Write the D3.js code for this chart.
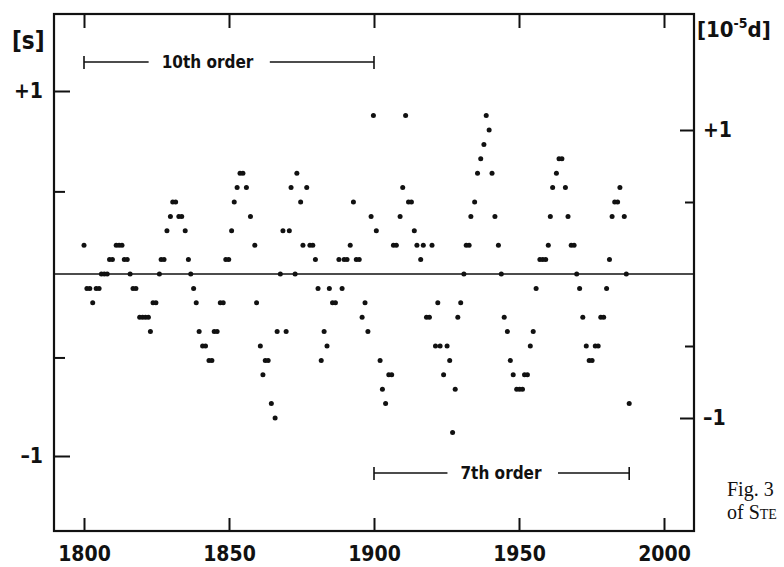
<!DOCTYPE html>
<html>
<head>
<meta charset="utf-8">
<script src="https://cdnjs.cloudflare.com/ajax/libs/d3/7.8.5/d3.min.js"></script>
<style>
  body { margin: 0; background: #fff; }
  svg { display: block; }
  .din { font-family: "DejaVu Sans", sans-serif; font-stretch: condensed; font-weight: bold; }
</style>
</head>
<body>
<script>
// epoch of each plotted residual (years)
const years = [
  1800.0, 1801.0, 1802.0, 1803.0, 1804.2, 1805.2, 1806.0, 1807.0, 1808.0, 1808.8,
  1809.8, 1811.1, 1812.1, 1813.1, 1813.9, 1814.9, 1815.9, 1816.9, 1817.9, 1819.2,
  1820.2, 1821.2, 1822.2, 1822.9, 1823.8, 1824.8, 1826.0, 1826.6, 1827.6, 1828.6,
  1829.8, 1830.6, 1831.6, 1832.7, 1833.7, 1834.9, 1836.0, 1836.8, 1837.8, 1838.7,
  1839.7, 1840.9, 1841.9, 1843.1, 1844.1, 1844.9, 1845.9, 1847.0, 1848.0, 1848.9,
  1849.9, 1850.9, 1851.8, 1852.8, 1853.8, 1854.8, 1856.0, 1857.4, 1858.9, 1859.5,
  1860.8, 1861.7, 1862.5, 1863.5, 1864.6, 1865.9, 1866.6, 1867.7, 1868.6, 1869.7,
  1870.8, 1871.4, 1872.8, 1873.4, 1874.7, 1875.5, 1876.8, 1877.9, 1878.9, 1879.8,
  1880.7, 1881.8, 1882.8, 1883.8, 1884.6, 1885.7, 1886.7, 1887.9, 1889.0, 1889.7,
  1890.7, 1891.8, 1892.9, 1893.9, 1894.9, 1895.9, 1896.9, 1897.9, 1899.0, 1899.8,
  1900.8, 1902.1, 1902.9, 1904.0, 1905.1, 1906.1, 1906.7, 1907.7, 1909.0, 1909.9,
  1910.9, 1911.9, 1912.9, 1913.9, 1914.8, 1916.1, 1917.0, 1918.1, 1919.1, 1920.0,
  1921.2, 1922.0, 1922.8, 1924.0, 1925.2, 1926.1, 1927.1, 1928.0, 1928.9, 1929.9,
  1931.0, 1931.8, 1932.8, 1933.4, 1934.7, 1935.7, 1936.8, 1937.9, 1938.7, 1939.7,
  1940.7, 1941.7, 1942.9, 1943.9, 1944.9, 1946.0, 1947.0, 1948.0, 1949.2, 1950.2,
  1951.2, 1951.9, 1952.9, 1953.9, 1954.9, 1955.9, 1957.2, 1958.2, 1959.2, 1960.1,
  1960.8, 1961.6, 1962.9, 1963.8, 1964.8, 1966.0, 1966.9, 1968.0, 1969.0, 1969.9,
  1970.9, 1972.0, 1973.2, 1974.2, 1975.2, 1976.3, 1977.3, 1978.2, 1979.2, 1980.2,
  1981.2, 1982.1, 1983.0, 1984.0, 1984.8, 1986.3, 1987.0, 1988.0
];

// residuals in units of 10^-5 d (right-hand scale)
const values = [
   0.2, -0.1, -0.1, -0.2, -0.1, -0.1,  0.0,  0.0,  0.0,  0.1,
   0.1,  0.2,  0.2,  0.2,  0.1,  0.1,  0.0, -0.1, -0.1, -0.3,
  -0.3, -0.3, -0.3, -0.4, -0.2, -0.2,  0.0,  0.1,  0.1,  0.3,
   0.4,  0.5,  0.5,  0.4,  0.4,  0.3,  0.1,  0.0, -0.1, -0.2,
  -0.4, -0.5, -0.5, -0.6, -0.6, -0.4, -0.4, -0.2, -0.2,  0.1,
   0.1,  0.3,  0.5,  0.6,  0.7,  0.7,  0.6,  0.4,  0.2, -0.2,
  -0.5, -0.7, -0.6, -0.6, -0.9, -1.0, -0.4,  0.0,  0.3, -0.4,
   0.3,  0.6,  0.0,  0.7,  0.5,  0.2,  0.6,  0.2,  0.2,  0.1,
  -0.1, -0.6, -0.4, -0.5, -0.1, -0.2, -0.2,  0.1, -0.1,  0.1,
   0.1,  0.2,  0.5,  0.1,  0.1, -0.3, -0.2, -0.4,  0.4,  1.1,
   0.3, -0.6, -0.8, -0.9, -0.7, -0.7,  0.2,  0.2,  0.4,  0.6,
   1.1,  0.5,  0.5,  0.3,  0.2,  0.1,  0.2, -0.3, -0.3,  0.2,
  -0.5, -0.2, -0.5, -0.7, -0.5, -0.6, -1.1, -0.8, -0.3, -0.2,
   0.0,  0.2,  0.2,  0.4,  0.5,  0.7,  0.8,  0.9,  1.1,  1.0,
   0.7,  0.4,  0.2,  0.0, -0.3, -0.4, -0.6, -0.7, -0.8, -0.8,
  -0.8, -0.7, -0.7, -0.5, -0.4, -0.1,  0.1,  0.1,  0.1,  0.2,
   0.4,  0.6,  0.7,  0.8,  0.8,  0.6,  0.4,  0.2,  0.2,  0.0,
  -0.1, -0.3, -0.5, -0.6, -0.6, -0.5, -0.5, -0.3, -0.3, -0.1,
   0.1,  0.4,  0.5,  0.5,  0.6,  0.4,  0.0, -0.9
];

const xTicks = [1800, 1850, 1900, 1950, 2000];
const leftMajor = [1, -1];        // seconds
const leftMinor = [0.45, -0.46];
const rightMajor = [1, -1];       // 10^-5 d
const rightMinor = [0.5, -0.5];

const orderLabels = ["10th order", "7th order"];
const orderFrom = [1800, 1900];
const orderTo = [1900, 1988];

const width = 784;
const height = 567;
const frame = { left: 54, right: 694, top: 14, bottom: 531 };
const ink = "#111";

const svg = d3.select("body")
  .append("svg")
  .attr("width", width)
  .attr("height", height);

const x = d3.scaleLinear().domain([1800, 2000]).range([84, 664]);
const yL = d3.scaleLinear().domain([-1, 1]).range([456, 91]);
const yR = d3.scaleLinear().domain([-1, 1]).range([418, 130]);

const signed = d => (d > 0 ? "+" : "\u2013") + Math.abs(d);

function styleAxis(g, size) {
  g.select(".domain").remove();
  g.attr("font-family", null).attr("font-size", null);
  g.selectAll(".tick line").attr("stroke", ink).attr("stroke-width", 2);
  g.selectAll(".tick text")
    .attr("class", "din")
    .attr("fill", ink)
    .style("font-size", size + "px");
}

// bottom axis, ticks pointing into the plot
svg.append("g")
  .attr("transform", `translate(0,${frame.bottom})`)
  .call(d3.axisBottom(x).tickValues(xTicks).tickFormat(d3.format("d"))
    .tickSizeInner(-13).tickSizeOuter(0).tickPadding(15))
  .call(g => styleAxis(g, 21));

// top axis, ticks only
svg.append("g")
  .attr("transform", `translate(0,${frame.top})`)
  .call(d3.axisTop(x).tickValues(xTicks).tickFormat("")
    .tickSizeInner(-14).tickSizeOuter(0))
  .call(g => styleAxis(g, 21));

// left axis [s]
svg.append("g")
  .attr("transform", `translate(${frame.left},0)`)
  .call(d3.axisLeft(yL).tickValues(leftMajor).tickFormat(signed)
    .tickSizeInner(-16).tickSizeOuter(0).tickPadding(11))
  .call(g => styleAxis(g, 21));

svg.append("g")
  .attr("transform", `translate(${frame.left},0)`)
  .call(d3.axisLeft(yL).tickValues(leftMinor).tickFormat("")
    .tickSizeInner(-11).tickSizeOuter(0))
  .call(g => styleAxis(g, 21));

// right axis [10^-5 d]
svg.append("g")
  .attr("transform", `translate(${frame.right},0)`)
  .call(d3.axisRight(yR).tickValues(rightMajor).tickFormat(signed)
    .tickSizeInner(-14).tickSizeOuter(0).tickPadding(9))
  .call(g => styleAxis(g, 21));

svg.append("g")
  .attr("transform", `translate(${frame.right},0)`)
  .call(d3.axisRight(yR).tickValues(rightMinor).tickFormat("")
    .tickSizeInner(-9).tickSizeOuter(0))
  .call(g => styleAxis(g, 21));

// frame
svg.append("rect")
  .attr("x", frame.left)
  .attr("y", frame.top)
  .attr("width", frame.right - frame.left)
  .attr("height", frame.bottom - frame.top)
  .attr("fill", "none")
  .attr("stroke", ink)
  .attr("stroke-width", 2.2);

// zero line
svg.append("line")
  .attr("x1", frame.left).attr("x2", frame.right)
  .attr("y1", yR(0)).attr("y2", yR(0))
  .attr("stroke", ink)
  .attr("stroke-width", 1.4);

// residual dots
svg.append("g")
  .selectAll("circle")
  .data(years)
  .enter()
  .append("circle")
  .attr("cx", d => x(d))
  .attr("cy", (d, i) => yR(values[i]))
  .attr("r", 2.5)
  .attr("fill", ink);

// fit-order brackets
const orderY = [62, 473];
const orderTextX = [207.5, 501];
orderLabels.forEach((label, i) => {
  const g = svg.append("g").attr("stroke", ink).attr("stroke-width", 1.6);
  const t = svg.append("text")
    .attr("class", "din")
    .attr("x", orderTextX[i])
    .attr("y", orderY[i] + 6)
    .attr("text-anchor", "middle")
    .attr("fill", ink)
    .style("font-size", "17px")
    .text(label);
  const box = t.node().getBBox();
  const x0 = x(orderFrom[i]);
  const x1 = x(orderTo[i]);
  g.append("line").attr("x1", x0).attr("x2", box.x - 13)
    .attr("y1", orderY[i]).attr("y2", orderY[i]);
  g.append("line").attr("x1", box.x + box.width + 16).attr("x2", x1)
    .attr("y1", orderY[i]).attr("y2", orderY[i]);
  [x0, x1].forEach(xx => {
    g.append("line").attr("x1", xx).attr("x2", xx)
      .attr("y1", orderY[i] - 6).attr("y2", orderY[i] + 7);
  });
});

// unit labels
svg.append("text")
  .attr("class", "din")
  .attr("x", 12)
  .attr("y", 49)
  .attr("fill", ink)
  .style("font-size", "24px")
  .text("[s]");

const unitR = svg.append("text")
  .attr("class", "din")
  .attr("x", 697)
  .attr("y", 37)
  .attr("fill", ink)
  .style("font-size", "22px");
unitR.append("tspan").text("[10");
unitR.append("tspan").attr("dy", -9).style("font-size", "14px").text("-5");
unitR.append("tspan").attr("dy", 9).text("d]");

// caption fragment at the right edge
const cap = svg.append("text")
  .attr("fill", ink)
  .style("font-family", "'Liberation Serif', 'Times New Roman', serif")
  .style("font-size", "20px");
cap.append("tspan").attr("x", 727).attr("y", 496).text("Fig. 3");
cap.append("tspan").attr("x", 727).attr("y", 519).text("of ");
cap.append("tspan").style("font-variant", "small-caps").text("Ste");
</script>
</body>
</html>
